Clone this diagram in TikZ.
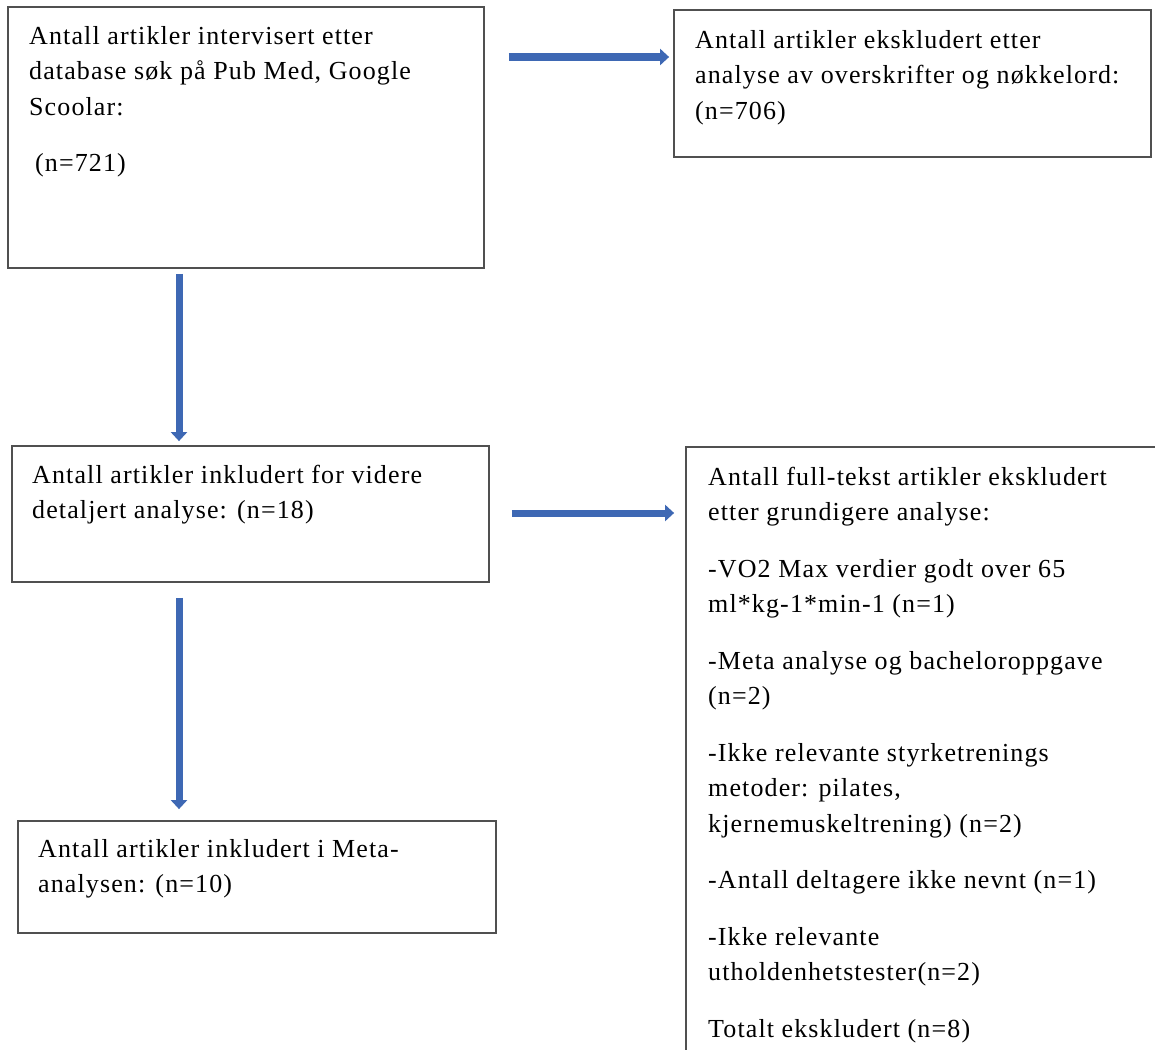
\documentclass[tikz,border=0pt]{standalone}
\usepackage{fontspec}
\setmainfont{Liberation Serif}[LetterSpace=4.3]
\usetikzlibrary{arrows.meta}
\definecolor{arrowblue}{RGB}{62,104,180}
\definecolor{boxgray}{RGB}{80,80,80}
\newcommand\tstrut{\rule{0pt}{18.5pt}}
\begin{document}
\begin{tikzpicture}[x=1pt,y=-1pt,
  box/.style={draw=boxgray, line width=1.8pt, rectangle, inner sep=0pt},
  txt/.style={anchor=north west, inner sep=0pt, align=left, font=\fontsize{26}{35.5}\selectfont},
  arr/.style={draw=arrowblue, line width=7pt, -{Triangle[width=16pt,length=9pt]}}]
\useasboundingbox (0,0) rectangle (1155,1049);
\clip (0,0) rectangle (1155,1049);
\fill[white] (0,0) rectangle (1155,1049);
% boxes
\node[box, minimum width=476pt, minimum height=261pt] (b1) at (246,137.5) {};
\node[box, minimum width=477pt, minimum height=147pt] (b2) at (912.5,83.5) {};
\node[box, minimum width=477pt, minimum height=136pt] (b3) at (250.5,514) {};
\node[box, minimum width=478pt, minimum height=112pt] (b4) at (257,877) {};
\node[box, minimum width=500pt, minimum height=640pt] (b5) at (936,767) {};
% texts
\node[txt] (t1) at (29,25.5) {\tstrut Antall artikler intervisert etter\\database søk på Pub Med, Google\\Scoolar:\\[21pt]\hspace{6pt}(n=721)};
\node[txt] (t2) at (695,29.5) {\tstrut Antall artikler ekskludert etter\\analyse av overskrifter og nøkkelord:\\(n=706)};
\node[txt] (t3) at (32,464.5) {\tstrut Antall artikler inkludert for videre\\detaljert analyse: (n=18)};
\node[txt] (t4) at (38,838.5) {\tstrut Antall artikler inkludert i Meta-\\analysen: (n=10)};
\node[txt] (t5) at (708,466.5) {\tstrut Antall full-tekst artikler ekskludert\\etter grundigere analyse:\\[21pt]-VO2 Max verdier godt over 65\\ml*kg-1*min-1 (n=1)\\[21pt]-Meta analyse og bacheloroppgave\\(n=2)\\[21pt]-Ikke relevante styrketrenings\\metoder: pilates,\\kjernemuskeltrening) (n=2)\\[21pt]-Antall deltagere ikke nevnt (n=1)\\[21pt]-Ikke relevante\\utholdenhetstester(n=2)\\[21pt]Totalt ekskludert (n=8)};
% arrows
\coordinate (y1) at (0,57);
\coordinate (y2) at (0,513);
\draw[arr, shorten <=24pt, shorten >=4pt] (b1.east |- y1) -- (b2.west |- y1);
\draw[arr, shorten <=5pt, shorten >=4pt] (b1.south -| 179,0) -- (b3.north -| 179,0);
\draw[arr, shorten <=22pt, shorten >=11pt] (b3.east |- y2) -- (b5.west |- y2);
\draw[arr, shorten <=15pt, shorten >=11pt] (b3.south -| 179,0) -- (b4.north -| 179,0);
\end{tikzpicture}
\end{document}
